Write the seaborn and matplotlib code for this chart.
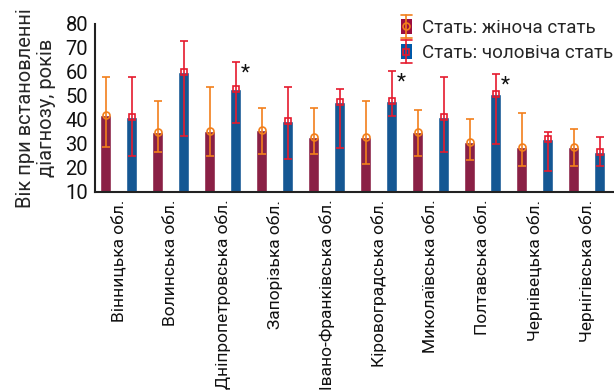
import matplotlib
matplotlib.use("Agg")
import matplotlib.pyplot as plt
import seaborn as sns
import pandas as pd
from matplotlib.legend_handler import HandlerBase
from matplotlib.patches import Rectangle, Patch
from matplotlib.lines import Line2D

# Regions and age at diagnosis (mean with lower/upper bounds), by sex
regions = [
    "Вінницька обл.", "Волинська обл.", "Дніпропетровська обл.",
    "Запорізька обл.", "Івано-Франківська обл.", "Кіровоградська обл.",
    "Миколаївська обл.", "Полтавська обл.", "Чернівецька обл.",
    "Чернігівська обл.",
]
sex_labels = ["Стать: жіноча стать", "Стать: чоловіча стать"]

female_mean = [42.1, 35.0, 35.4, 35.8, 32.9, 32.9, 35.0, 30.8, 28.9, 28.9]
female_low = [28.9, 26.8, 24.9, 25.8, 25.8, 21.7, 24.9, 23.3, 20.8, 20.8]
female_high = [58.1, 48.1, 53.9, 45.0, 45.0, 48.1, 44.0, 40.4, 43.0, 36.1]

male_mean = [41.3, 60.1, 52.9, 39.6, 47.4, 47.9, 41.3, 50.8, 32.1, 26.7]
male_low = [24.9, 33.3, 38.9, 23.9, 28.2, 41.8, 26.8, 30.0, 18.9, 20.8]
male_high = [58.0, 73.1, 64.0, 53.9, 53.1, 60.6, 58.0, 59.0, 35.0, 32.9]

# regions where the male value differs significantly
male_significant = [False, False, True, False, False, True, False, True, False, False]

y_ticks = [10, 20, 30, 40, 50, 60, 70, 80]

bar_colors = ["#9c0e3f", "#0058a8"]
err_colors = ["#f27f1b", "#e51a2e"]
err_markers = ["o", "s"]

sns.set_style("white")
plt.rcParams["font.family"] = ["Roboto", "DejaVu Sans"]

df = pd.DataFrame({
    "region": regions * 2,
    "sex": [sex_labels[0]] * len(regions) + [sex_labels[1]] * len(regions),
    "age": female_mean + male_mean,
})

fig, ax = plt.subplots(figsize=(6.14, 3.9), dpi=100)
fig.subplots_adjust(left=0.1547, right=1.0, top=0.9385, bottom=0.5077)

sns.barplot(data=df, x="region", y="age", hue="sex", hue_order=sex_labels,
            palette=bar_colors, width=1.0, gap=0.58, errorbar=None,
            legend=False, ax=ax, zorder=2)

series = [
    (female_mean, female_low, female_high),
    (male_mean, male_low, male_high),
]
for i, (container, (mean, low, high)) in enumerate(zip(ax.containers, series)):
    xs = [p.get_x() + p.get_width() / 2 for p in container]
    yerr = [[m - lo for m, lo in zip(mean, low)],
            [hi - m for m, hi in zip(mean, high)]]
    ax.errorbar(xs, mean, yerr=yerr, fmt=err_markers[i], mfc="none",
                mec=err_colors[i], mew=1.2, ms=5, ecolor=err_colors[i],
                elinewidth=1.2, capsize=2.6, capthick=1.2, zorder=3)
    if i == 1:
        for x, hi, sig in zip(xs, high, male_significant):
            if sig:
                ax.annotate("*", xy=(x, hi), xytext=(7, -8),
                            textcoords="offset points", ha="center",
                            va="center", fontsize=15, color="#111111")

ax.set_ylim(10, 80)
ax.set_yticks(y_ticks)
ax.set_xlim(-0.46, 9.52)
ax.set_xlabel("")
ax.set_ylabel("Вік при встановленні\nдіагнозу, років", fontsize=14.5,
              linespacing=1.1, labelpad=7)

for side in ["top", "right"]:
    ax.spines[side].set_visible(False)
for side in ["left", "bottom"]:
    ax.spines[side].set_color("#222222")
    ax.spines[side].set_linewidth(1.5)

ax.tick_params(axis="y", direction="in", length=4, width=1.2,
               labelsize=14.5, pad=5, colors="#222222")
ax.tick_params(axis="x", direction="inout", length=5, width=1.2,
               labelsize=12.5, pad=3, colors="#222222")
for lbl in ax.get_xticklabels():
    lbl.set_rotation(90)
    lbl.set_color("#111111")
for lbl in ax.get_yticklabels():
    lbl.set_color("#111111")


class BarErrorHandler(HandlerBase):
    """Legend key: a bar swatch with a vertical error bar and marker."""

    def __init__(self, face, color, marker):
        super().__init__()
        self.face = face
        self.color = color
        self.marker = marker

    def create_artists(self, legend, orig_handle, xdescent, ydescent,
                       width, height, fontsize, trans):
        x0, y0 = -xdescent, -ydescent
        cx, cy = x0 + width / 2, y0 + height / 2
        rect = Rectangle((x0, cy - 5.4), width, 10.8, facecolor=self.face,
                         edgecolor="none", transform=trans)
        e = 8.3
        stem = Line2D([cx, cx], [cy - e, cy + e], color=self.color, lw=1.2,
                      transform=trans)
        cap_top = Line2D([x0, x0 + width], [cy + e, cy + e],
                         color=self.color, lw=1.2, transform=trans)
        cap_bot = Line2D([x0, x0 + width], [cy - e, cy - e],
                         color=self.color, lw=1.2, transform=trans)
        mark = Line2D([cx], [cy], marker=self.marker, mfc="none",
                      mec=self.color, mew=1.2, ms=5, transform=trans)
        return [rect, stem, cap_top, cap_bot, mark]


handles = [Patch(facecolor=c) for c in bar_colors]
handler_map = {h: BarErrorHandler(f, c, m)
               for h, f, c, m in zip(handles, bar_colors, err_colors, err_markers)}
ax.legend(handles=handles, labels=sex_labels, handler_map=handler_map,
          loc="upper left", bbox_to_anchor=(401 / 614, 1 - 19 / 390),
          bbox_transform=fig.transFigure, frameon=False, fontsize=13.5,
          handlelength=0.58, handletextpad=0.55, labelspacing=0.4,
          borderpad=0, borderaxespad=0)

fig.savefig("out.png", dpi=100)
